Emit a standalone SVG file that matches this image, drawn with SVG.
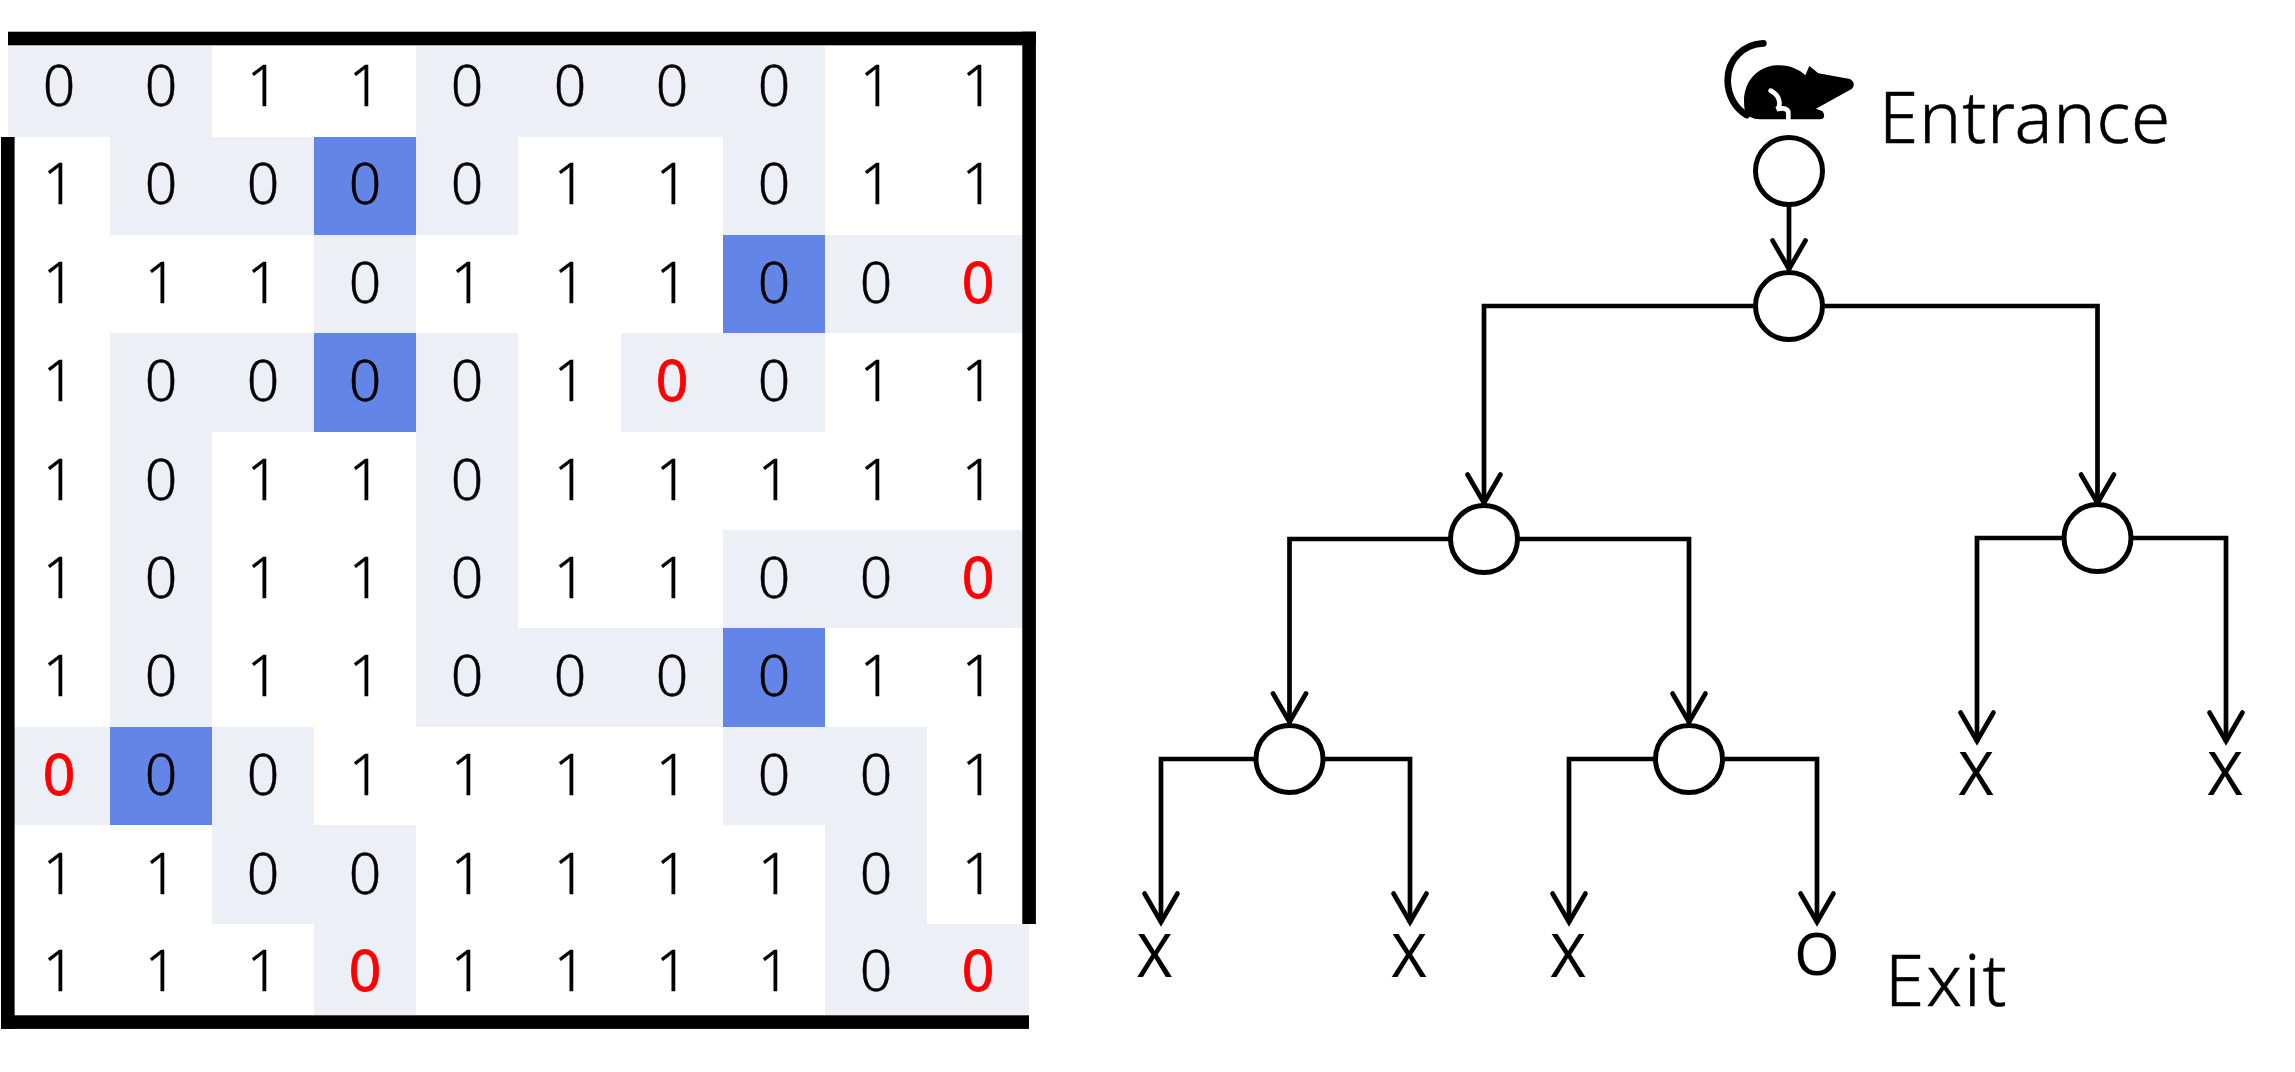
<svg xmlns="http://www.w3.org/2000/svg" width="2295" height="1072" viewBox="0 0 2295 1072">
<style>
text{font-family:"Noto Sans","DejaVu Sans",sans-serif;fill:#000}
.d{font-size:57px;font-weight:300;text-anchor:middle;stroke:#000;stroke-width:.5}
.r{fill:#f00;stroke:#f00;stroke-width:.8;font-weight:400}
.l{font-size:71px;font-weight:300;stroke:#000;stroke-width:.5}
.t{font-size:60px;font-weight:400;text-anchor:middle}
.c{fill:#eceff6}
.b{fill:#6485e8}
.w{fill:#000}
.n{fill:#fff;stroke:#000;stroke-width:5}
.e{fill:none;stroke:#000;stroke-width:4.7}
</style>
<defs>
<marker id="arrow" markerUnits="userSpaceOnUse" orient="auto" overflow="visible" markerWidth="40" markerHeight="40">
<path d="M-29.5,-16.5L-1,0L-29.5,16.5" fill="none" stroke="#000" stroke-width="4.7" stroke-linecap="round"/>
</marker>
</defs>
<rect width="2295" height="1072" fill="#fff"/>
<g id="maze-shading">
<rect class="c" x="8" y="46" width="204" height="91"/><rect class="c" x="416" y="46" width="409" height="91"/>
<rect class="c" x="110" y="137" width="204" height="98"/><rect class="b" x="314" y="137" width="102" height="98"/><rect class="c" x="416" y="137" width="102" height="98"/><rect class="c" x="723" y="137" width="102" height="98"/>
<rect class="c" x="314" y="235" width="102" height="98"/><rect class="b" x="723" y="235" width="102" height="98"/><rect class="c" x="825" y="235" width="204" height="98"/>
<rect class="c" x="110" y="333" width="204" height="99"/><rect class="b" x="314" y="333" width="102" height="99"/><rect class="c" x="416" y="333" width="102" height="99"/><rect class="c" x="621" y="333" width="204" height="99"/>
<rect class="c" x="110" y="432" width="102" height="98"/><rect class="c" x="416" y="432" width="102" height="98"/>
<rect class="c" x="110" y="530" width="102" height="98"/><rect class="c" x="416" y="530" width="102" height="98"/><rect class="c" x="723" y="530" width="306" height="98"/>
<rect class="c" x="110" y="628" width="102" height="99"/><rect class="c" x="416" y="628" width="307" height="99"/><rect class="b" x="723" y="628" width="102" height="99"/>
<rect class="c" x="8" y="727" width="102" height="98"/><rect class="b" x="110" y="727" width="102" height="98"/><rect class="c" x="212" y="727" width="102" height="98"/><rect class="c" x="723" y="727" width="204" height="98"/>
<rect class="c" x="212" y="825" width="204" height="99"/><rect class="c" x="825" y="825" width="102" height="99"/>
<rect class="c" x="314" y="924" width="102" height="91"/><rect class="c" x="825" y="924" width="204" height="91"/>
</g>
<g id="maze-digits">
<text class="d" x="59" y="106">0</text><text class="d" x="161" y="106">0</text><text class="d" x="263" y="106">1</text><text class="d" x="365" y="106">1</text><text class="d" x="467" y="106">0</text><text class="d" x="570" y="106">0</text><text class="d" x="672" y="106">0</text><text class="d" x="774" y="106">0</text><text class="d" x="876" y="106">1</text><text class="d" x="978" y="106">1</text>
<text class="d" x="59" y="204.300">1</text><text class="d" x="161" y="204.300">0</text><text class="d" x="263" y="204.300">0</text><text class="d" x="365" y="204.300">0</text><text class="d" x="467" y="204.300">0</text><text class="d" x="570" y="204.300">1</text><text class="d" x="672" y="204.300">1</text><text class="d" x="774" y="204.300">0</text><text class="d" x="876" y="204.300">1</text><text class="d" x="978" y="204.300">1</text>
<text class="d" x="59" y="302.600">1</text><text class="d" x="161" y="302.600">1</text><text class="d" x="263" y="302.600">1</text><text class="d" x="365" y="302.600">0</text><text class="d" x="467" y="302.600">1</text><text class="d" x="570" y="302.600">1</text><text class="d" x="672" y="302.600">1</text><text class="d" x="774" y="302.600">0</text><text class="d" x="876" y="302.600">0</text><text class="d r" x="978" y="302.600">0</text>
<text class="d" x="59" y="401">1</text><text class="d" x="161" y="401">0</text><text class="d" x="263" y="401">0</text><text class="d" x="365" y="401">0</text><text class="d" x="467" y="401">0</text><text class="d" x="570" y="401">1</text><text class="d r" x="672" y="401">0</text><text class="d" x="774" y="401">0</text><text class="d" x="876" y="401">1</text><text class="d" x="978" y="401">1</text>
<text class="d" x="59" y="499.500">1</text><text class="d" x="161" y="499.500">0</text><text class="d" x="263" y="499.500">1</text><text class="d" x="365" y="499.500">1</text><text class="d" x="467" y="499.500">0</text><text class="d" x="570" y="499.500">1</text><text class="d" x="672" y="499.500">1</text><text class="d" x="774" y="499.500">1</text><text class="d" x="876" y="499.500">1</text><text class="d" x="978" y="499.500">1</text>
<text class="d" x="59" y="598">1</text><text class="d" x="161" y="598">0</text><text class="d" x="263" y="598">1</text><text class="d" x="365" y="598">1</text><text class="d" x="467" y="598">0</text><text class="d" x="570" y="598">1</text><text class="d" x="672" y="598">1</text><text class="d" x="774" y="598">0</text><text class="d" x="876" y="598">0</text><text class="d r" x="978" y="598">0</text>
<text class="d" x="59" y="696.300">1</text><text class="d" x="161" y="696.300">0</text><text class="d" x="263" y="696.300">1</text><text class="d" x="365" y="696.300">1</text><text class="d" x="467" y="696.300">0</text><text class="d" x="570" y="696.300">0</text><text class="d" x="672" y="696.300">0</text><text class="d" x="774" y="696.300">0</text><text class="d" x="876" y="696.300">1</text><text class="d" x="978" y="696.300">1</text>
<text class="d r" x="59" y="795">0</text><text class="d" x="161" y="795">0</text><text class="d" x="263" y="795">0</text><text class="d" x="365" y="795">1</text><text class="d" x="467" y="795">1</text><text class="d" x="570" y="795">1</text><text class="d" x="672" y="795">1</text><text class="d" x="774" y="795">0</text><text class="d" x="876" y="795">0</text><text class="d" x="978" y="795">1</text>
<text class="d" x="59" y="894">1</text><text class="d" x="161" y="894">1</text><text class="d" x="263" y="894">0</text><text class="d" x="365" y="894">0</text><text class="d" x="467" y="894">1</text><text class="d" x="570" y="894">1</text><text class="d" x="672" y="894">1</text><text class="d" x="774" y="894">1</text><text class="d" x="876" y="894">0</text><text class="d" x="978" y="894">1</text>
<text class="d" x="59" y="991">1</text><text class="d" x="161" y="991">1</text><text class="d" x="263" y="991">1</text><text class="d r" x="365" y="991">0</text><text class="d" x="467" y="991">1</text><text class="d" x="570" y="991">1</text><text class="d" x="672" y="991">1</text><text class="d" x="774" y="991">1</text><text class="d" x="876" y="991">0</text><text class="d r" x="978" y="991">0</text>
</g>
<g id="maze-walls">
<rect class="w" x="8" y="31.700" width="1028" height="13.600"/>
<rect class="w" x="1022.300" y="31.700" width="13.600" height="892.300"/>
<rect class="w" x="1" y="137" width="13.600" height="892"/>
<rect class="w" x="1" y="1015.300" width="1028" height="13.600"/>
</g>
<g id="connectors">
<path class="e" d="M1789,204V270" marker-end="url(#arrow)"/>
<path class="e" d="M1756,306H1484V504" marker-end="url(#arrow)"/>
<path class="e" d="M1822,306H2097.500V504" marker-end="url(#arrow)"/>
<path class="e" d="M1451,539H1289.500V723" marker-end="url(#arrow)"/>
<path class="e" d="M1517,539H1689V723" marker-end="url(#arrow)"/>
<path class="e" d="M2065,538H1977V742" marker-end="url(#arrow)"/>
<path class="e" d="M2131,538H2226V742" marker-end="url(#arrow)"/>
<path class="e" d="M1256,759H1161V923" marker-end="url(#arrow)"/>
<path class="e" d="M1322,759H1410V923" marker-end="url(#arrow)"/>
<path class="e" d="M1656,759H1569V923" marker-end="url(#arrow)"/>
<path class="e" d="M1722,759H1817V923" marker-end="url(#arrow)"/>
</g>
<g id="node-entry"><circle class="n" cx="1789" cy="171" r="33.500"/></g>
<g id="node-root"><circle class="n" cx="1789" cy="306" r="33.500"/></g>
<g id="node-left"><circle class="n" cx="1484" cy="539" r="33.500"/></g>
<g id="node-right"><circle class="n" cx="2097.500" cy="538" r="33.500"/></g>
<g id="node-left-left"><circle class="n" cx="1289.500" cy="759" r="33.500"/></g>
<g id="node-left-right"><circle class="n" cx="1689" cy="759" r="33.500"/></g>
<g id="leaf-1"><text class="t" x="1154.500" y="977">X</text></g>
<g id="leaf-2"><text class="t" x="1409" y="977">X</text></g>
<g id="leaf-3"><text class="t" x="1568" y="977">X</text></g>
<g id="leaf-4"><text class="t" x="1817" y="975" font-size="58" style="font-size:58px">O</text></g>
<g id="leaf-5"><text class="t" x="1976" y="795">X</text></g>
<g id="leaf-6"><text class="t" x="2225" y="795">X</text></g>
<g id="mouse" transform="translate(1680 20) scale(.33333)">
<path d="M250,70C190,72 143,120 143,180C143,225 165,265 200,285" fill="none" stroke="#000" stroke-width="20" stroke-linecap="round"/>
<path d="M195,275C180,195 225,140 290,136C330,134 360,150 376,166L388,138L415,160L510,177Q530,190 515,207L408,266L428,274Q440,296 420,298H240Q205,296 195,275Z" fill="#000"/>
<path d="M272,212Q296,225 298,245Q300,262 290,268Q318,260 325,275V298" fill="none" stroke="#fff" stroke-width="14" stroke-linecap="round"/>
</g>
<g id="label-entrance"><text class="l" x="1879" y="143" letter-spacing=".8">Entrance</text></g>
<g id="label-exit"><text class="l" x="1885" y="1006" letter-spacing="2">Exit</text></g>
</svg>
